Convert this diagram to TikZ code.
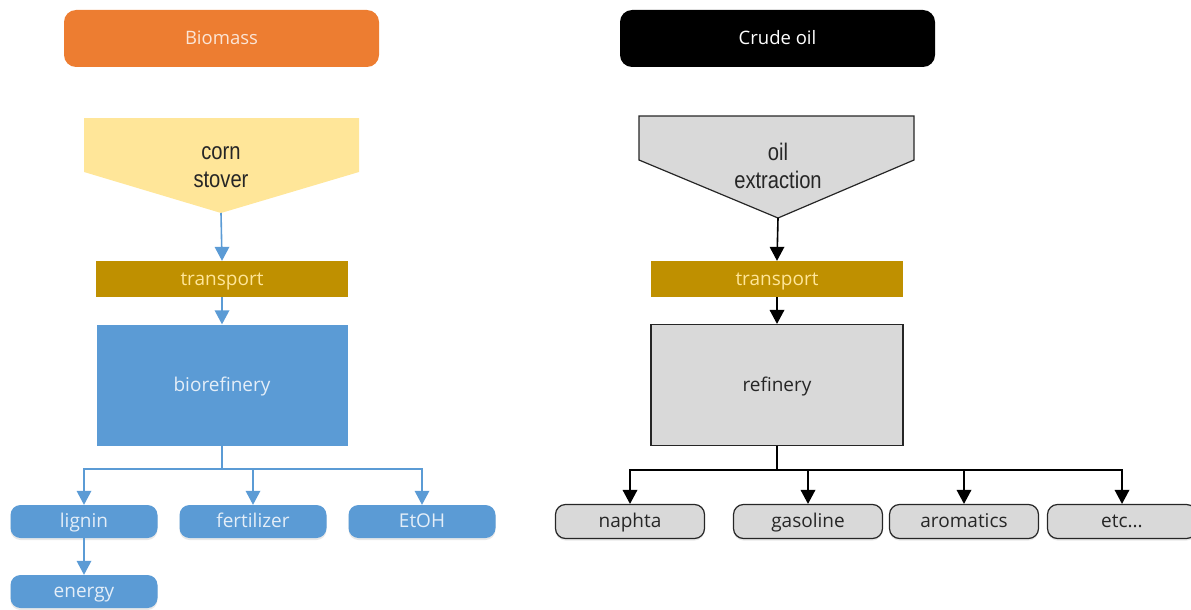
\documentclass[tikz,border=0pt]{standalone}
\usepackage{fontspec}
\setmainfont{Open Sans}
\newfontfamily\shapefont[FakeStretch=0.84]{Liberation Sans}
\usetikzlibrary{shadows}

\definecolor{bioorange}{HTML}{ED7D31}
\definecolor{orangetext}{HTML}{FBE5D6}
\definecolor{stoverfill}{HTML}{FFE699}
\definecolor{transportfill}{HTML}{BF9000}
\definecolor{transporttext}{HTML}{FFE699}
\definecolor{bioblue}{HTML}{5B9BD5}
\definecolor{bluetext}{HTML}{E4EEF8}
\definecolor{oilgray}{HTML}{D9D9D9}
\definecolor{graytext}{HTML}{262626}
\definecolor{edgegray}{HTML}{262626}

\tikzset{
  lbl/.style={font=\fontsize{19}{21}\selectfont, inner sep=0pt, text height=13pt, text depth=1pt},
  titlebox/.style={lbl, font=\fontsize{18.5}{21}\selectfont, rounded corners=12pt,
    minimum width=315pt, minimum height=57pt},
  bandbox/.style={lbl, fill=transportfill, text=transporttext, minimum width=252pt, minimum height=36pt},
  plantbox/.style={lbl, minimum width=251pt, minimum height=121pt},
  bioprod/.style={lbl, fill=bioblue, text=bluetext, rounded corners=10pt,
    minimum width=147pt, minimum height=33pt,
    drop shadow={shadow xshift=0pt, shadow yshift=-2pt, opacity=0.18}},
  oilprod/.style={lbl, fill=oilgray, draw=edgegray, line width=1.2pt, text=graytext,
    rounded corners=10pt, minimum width=149pt, minimum height=34pt,
    drop shadow={shadow xshift=0pt, shadow yshift=-2pt, opacity=0.18}},
  blueline/.style={draw=bioblue, line width=1.6pt, shorten >=5pt},
  blackline/.style={draw=black, line width=1.6pt, shorten >=5pt},
  shapetext/.style={font=\shapefont\fontsize{24}{28}\selectfont, align=center, inner sep=0pt, text=black!85}
}

% filled triangular head whose tip sits on the given anchor, pointing down
\newcommand\downhead[2]{\fill[#2] (#1) -- ++(-7.5,14) -- ++(15,0) -- cycle;}

\begin{document}
\begin{tikzpicture}[x=1pt,y=1pt]
\useasboundingbox (0,0) rectangle (1191,-610);

% ---------- biomass chain ----------
\node[titlebox, fill=bioorange, text=orangetext] (biomass) at (221.5,-38.5) {Biomass};

\fill[stoverfill] (84,-118) -- (359,-118) -- (359,-172) -- (221,-213) -- (84,-172) -- cycle;
\node[shapetext] (stover) at (221,-167) {corn\\stover};
\coordinate (stovertip) at (221,-213);

\node[bandbox] (ltransport) at (222,-279) {transport};
\node[plantbox, fill=bioblue, text=bluetext] (bioref) at (222,-385) {biorefinery};

\node[bioprod] (lignin) at (84,-521.5) {lignin};
\node[bioprod] (fert) at (253,-521.5) {fertilizer};
\node[bioprod] (etoh) at (422,-521.5) {EtOH};
\node[bioprod] (energy) at (84,-591.5) {energy};

\draw[blueline] (stovertip) -- (ltransport.north);
\draw[blueline] (ltransport.south) -- (bioref.north);
\coordinate (lsplit) at (222,-469);
\draw[blueline] (bioref.south) -- (lsplit) -| (lignin.north);
\draw[blueline] (lsplit) -| (fert.north);
\draw[blueline] (lsplit) -| (etoh.north);
\draw[blueline] (lignin.south) -- (energy.north);
\foreach \n in {ltransport,bioref,lignin,fert,etoh,energy}{\downhead{\n.north}{bioblue}}

% ---------- crude oil chain ----------
\node[titlebox, fill=black, text=white] (crude) at (777.5,-38.5) {Crude oil};

\filldraw[fill=oilgray, draw=edgegray, line width=1.2pt, line join=miter]
  (639,-116) -- (914,-116) -- (914,-160) -- (778,-218) -- (639,-160) -- cycle;
\node[shapetext] (extraction) at (778,-166) {oil\\extraction};
\coordinate (extip) at (778,-218);

\node[bandbox] (rtransport) at (777,-279) {transport};
\node[plantbox, fill=oilgray, draw=edgegray, line width=1.2pt, text=graytext,
  minimum width=252pt] (refinery) at (777,-385) {refinery};

\node[oilprod] (naphta) at (630,-521.5) {naphta};
\node[oilprod] (gasoline) at (808,-521.5) {gasoline};
\node[oilprod] (aromatics) at (964,-521.5) {aromatics};
\node[oilprod] (etc) at (1122,-521.5) {etc...};

\draw[blackline] (extip) -- (rtransport.north);
\draw[blackline] (rtransport.south) -- (refinery.north);
\coordinate (rsplit) at (777,-470);
\draw[blackline] (refinery.south) -- (rsplit) -| (naphta.north);
\draw[blackline] (rsplit) -| (gasoline.north);
\draw[blackline] (rsplit) -| (aromatics.north);
\draw[blackline] (rsplit) -| (etc.north);
\foreach \n in {rtransport,refinery,naphta,gasoline,aromatics,etc}{\downhead{\n.north}{black}}
\end{tikzpicture}
\end{document}
